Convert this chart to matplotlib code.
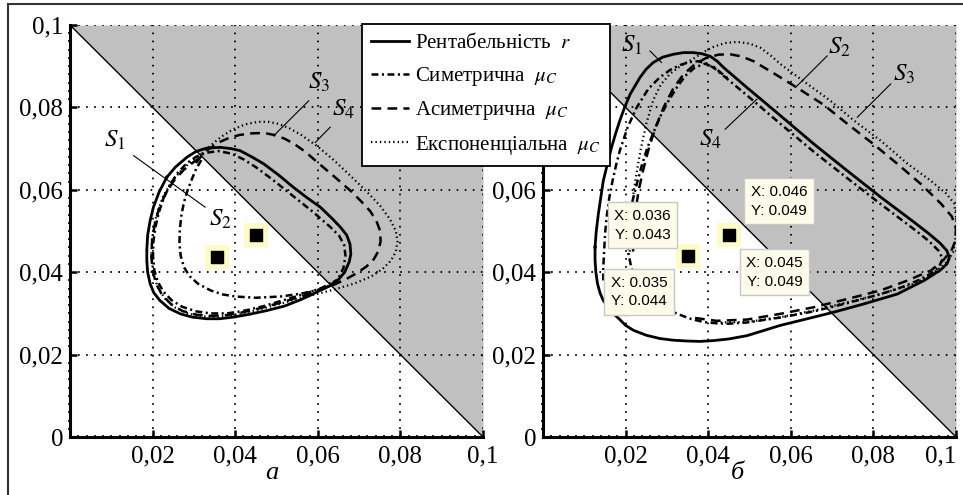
import numpy as np
import matplotlib
matplotlib.use("Agg")
import matplotlib.pyplot as plt
from matplotlib.lines import Line2D
from matplotlib.patches import Rectangle

# --- Data ---
ticks = [0, 0.02, 0.04, 0.06, 0.08, 0.1]
tick_labels = ["0", "0,02", "0,04", "0,06", "0,08", "0,1"]
legend_labels = ["Рентабельність  $r$", "Симетрична  $\\mu_C$",
                 "Асиметрична  $\\mu_C$", "Експоненціальна  $\\mu_C$"]
panel_names = ["а", "б"]

# boundary of the shaded region: x + y = 0.1
border_x = [0.0, 0.1]
border_y = [0.1, 0.0]

# panel a
a_s1 = np.array([
    [0.0234, 0.0630], [0.0255, 0.0655], [0.0283, 0.0679], [0.0305, 0.0693],
    [0.0330, 0.0701], [0.0364, 0.0703], [0.0390, 0.0700], [0.0412, 0.0695],
    [0.0440, 0.0680], [0.0469, 0.0663], [0.0505, 0.0636], [0.0541, 0.0606],
    [0.0575, 0.0580], [0.0606, 0.0558], [0.0635, 0.0530], [0.0655, 0.0509],
    [0.0670, 0.0490], [0.0678, 0.0468], [0.0680, 0.0444], [0.0676, 0.0425],
    [0.0665, 0.0400], [0.0650, 0.0382], [0.0630, 0.0367], [0.0606, 0.0356],
    [0.0580, 0.0343], [0.0558, 0.0333], [0.0520, 0.0318], [0.0477, 0.0307],
    [0.0435, 0.0298], [0.0396, 0.0291], [0.0362, 0.0287], [0.0331, 0.0287],
    [0.0296, 0.0291], [0.0267, 0.0299], [0.0240, 0.0312], [0.0218, 0.0331],
    [0.0203, 0.0350], [0.0194, 0.0372], [0.0188, 0.0400], [0.0186, 0.0428],
    [0.0186, 0.0455], [0.0188, 0.0490], [0.0194, 0.0525], [0.0202, 0.0558],
    [0.0216, 0.0595], [0.0234, 0.0630]])
a_s2 = np.array([
    [0.0318, 0.0672], [0.0306, 0.0652], [0.0296, 0.0628], [0.0285, 0.0600],
    [0.0276, 0.0570], [0.0270, 0.0540], [0.0266, 0.0505], [0.0265, 0.0470],
    [0.0268, 0.0440], [0.0276, 0.0412], [0.0290, 0.0390], [0.0310, 0.0372],
    [0.0340, 0.0356], [0.0370, 0.0346], [0.0400, 0.0341], [0.0450, 0.0338],
    [0.0510, 0.0341], [0.0560, 0.0348], [0.0600, 0.0357], [0.0630, 0.0368],
    [0.0650, 0.0385], [0.0662, 0.0410], [0.0667, 0.0440], [0.0664, 0.0465],
    [0.0652, 0.0488], [0.0630, 0.0510], [0.0590, 0.0545], [0.0540, 0.0585],
    [0.0490, 0.0625], [0.0450, 0.0655], [0.0420, 0.0674], [0.0390, 0.0688],
    [0.0360, 0.0694], [0.0330, 0.0690], [0.0305, 0.0680], [0.0282, 0.0664],
    [0.0260, 0.0640], [0.0242, 0.0612], [0.0227, 0.0580], [0.0215, 0.0545],
    [0.0207, 0.0510], [0.0202, 0.0475], [0.0201, 0.0440], [0.0204, 0.0405],
    [0.0212, 0.0378], [0.0226, 0.0353], [0.0246, 0.0332], [0.0272, 0.0316],
    [0.0305, 0.0305], [0.0340, 0.0300], [0.0380, 0.0300], [0.0420, 0.0306],
    [0.0470, 0.0318], [0.0520, 0.0333], [0.0570, 0.0348], [0.0610, 0.0362],
    [0.0640, 0.0378]])
a_s3 = np.array([
    [0.0305, 0.0665], [0.0318, 0.0682], [0.0335, 0.0698], [0.0360, 0.0715],
    [0.0385, 0.0726], [0.0410, 0.0733], [0.0440, 0.0737], [0.0470, 0.0738],
    [0.0495, 0.0733], [0.0520, 0.0724], [0.0545, 0.0710], [0.0570, 0.0692],
    [0.0600, 0.0666], [0.0640, 0.0632], [0.0680, 0.0597], [0.0705, 0.0572],
    [0.0727, 0.0548], [0.0742, 0.0524], [0.0751, 0.0500], [0.0752, 0.0475],
    [0.0747, 0.0452], [0.0736, 0.0432], [0.0718, 0.0414], [0.0695, 0.0398],
    [0.0670, 0.0384], [0.0640, 0.0370], [0.0600, 0.0355], [0.0560, 0.0341],
    [0.0520, 0.0329], [0.0470, 0.0315], [0.0420, 0.0303], [0.0380, 0.0296],
    [0.0340, 0.0294], [0.0305, 0.0297], [0.0272, 0.0306], [0.0245, 0.0322],
    [0.0223, 0.0345], [0.0208, 0.0373], [0.0200, 0.0405], [0.0197, 0.0440],
    [0.0199, 0.0478], [0.0205, 0.0515], [0.0215, 0.0552], [0.0230, 0.0588],
    [0.0250, 0.0620], [0.0275, 0.0648], [0.0300, 0.0668], [0.0318, 0.0680]])
a_s4 = np.array([
    [0.0320, 0.0688], [0.0340, 0.0707], [0.0365, 0.0728], [0.0395, 0.0747],
    [0.0425, 0.0759], [0.0455, 0.0765], [0.0480, 0.0765], [0.0505, 0.0760],
    [0.0530, 0.0750], [0.0560, 0.0733], [0.0600, 0.0705], [0.0640, 0.0671],
    [0.0680, 0.0633], [0.0720, 0.0594], [0.0752, 0.0560], [0.0775, 0.0528],
    [0.0789, 0.0500], [0.0793, 0.0475], [0.0789, 0.0450], [0.0777, 0.0428],
    [0.0757, 0.0408], [0.0730, 0.0390], [0.0690, 0.0373], [0.0640, 0.0358],
    [0.0590, 0.0345], [0.0540, 0.0332], [0.0490, 0.0318], [0.0440, 0.0305],
    [0.0400, 0.0297], [0.0360, 0.0292], [0.0320, 0.0293], [0.0285, 0.0300],
    [0.0255, 0.0314], [0.0230, 0.0336], [0.0212, 0.0364], [0.0202, 0.0398],
    [0.0197, 0.0435], [0.0198, 0.0475], [0.0203, 0.0512], [0.0212, 0.0548],
    [0.0226, 0.0585], [0.0245, 0.0618], [0.0270, 0.0648], [0.0298, 0.0672],
    [0.0320, 0.0688]])

# panel б
b_s1 = np.array([
    [0.0126, 0.0461], [0.0129, 0.0500], [0.0134, 0.0541], [0.0140, 0.0582],
    [0.0146, 0.0622], [0.0156, 0.0663], [0.0166, 0.0703], [0.0176, 0.0737],
    [0.0186, 0.0768], [0.0198, 0.0801], [0.0211, 0.0832], [0.0235, 0.0873],
    [0.0250, 0.0893], [0.0267, 0.0909], [0.0290, 0.0922], [0.0316, 0.0929],
    [0.0340, 0.0933], [0.0364, 0.0933], [0.0386, 0.0930], [0.0405, 0.0924],
    [0.0422, 0.0912], [0.0437, 0.0897], [0.0494, 0.0848], [0.0575, 0.0780],
    [0.0656, 0.0711], [0.0737, 0.0646], [0.0818, 0.0582], [0.0899, 0.0521],
    [0.0935, 0.0493], [0.0962, 0.0470], [0.0978, 0.0452], [0.0984, 0.0435],
    [0.0978, 0.0420], [0.0962, 0.0405], [0.0923, 0.0380], [0.0858, 0.0347],
    [0.0777, 0.0323], [0.0704, 0.0303], [0.0656, 0.0291], [0.0575, 0.0271],
    [0.0494, 0.0246], [0.0450, 0.0238], [0.0413, 0.0234], [0.0380, 0.0232],
    [0.0348, 0.0233], [0.0315, 0.0235], [0.0283, 0.0239], [0.0250, 0.0247],
    [0.0219, 0.0259], [0.0200, 0.0271], [0.0186, 0.0285], [0.0170, 0.0300],
    [0.0158, 0.0315], [0.0146, 0.0331], [0.0138, 0.0350], [0.0132, 0.0372],
    [0.0128, 0.0400], [0.0126, 0.0430], [0.0126, 0.0461]])
b_s2 = np.array([
    [0.0146, 0.0380], [0.0146, 0.0412], [0.0148, 0.0450], [0.0150, 0.0490],
    [0.0154, 0.0533], [0.0160, 0.0578], [0.0168, 0.0620], [0.0177, 0.0660],
    [0.0186, 0.0695], [0.0205, 0.0752], [0.0227, 0.0800], [0.0255, 0.0845],
    [0.0283, 0.0873], [0.0308, 0.0891], [0.0332, 0.0903], [0.0355, 0.0910],
    [0.0375, 0.0912], [0.0395, 0.0907], [0.0415, 0.0895], [0.0450, 0.0866],
    [0.0500, 0.0824], [0.0575, 0.0760], [0.0656, 0.0692], [0.0737, 0.0628],
    [0.0818, 0.0565], [0.0900, 0.0503], [0.0935, 0.0475], [0.0958, 0.0452],
    [0.0968, 0.0432], [0.0958, 0.0412], [0.0940, 0.0397], [0.0910, 0.0381],
    [0.0870, 0.0364], [0.0818, 0.0347], [0.0737, 0.0325], [0.0656, 0.0305],
    [0.0575, 0.0290], [0.0494, 0.0278], [0.0450, 0.0275], [0.0420, 0.0276],
    [0.0390, 0.0279], [0.0360, 0.0286], [0.0330, 0.0297], [0.0300, 0.0310],
    [0.0270, 0.0328], [0.0245, 0.0352], [0.0226, 0.0380], [0.0214, 0.0410],
    [0.0207, 0.0445], [0.0206, 0.0493], [0.0210, 0.0530], [0.0216, 0.0570],
    [0.0227, 0.0614], [0.0238, 0.0655], [0.0252, 0.0700], [0.0267, 0.0738],
    [0.0285, 0.0780], [0.0305, 0.0818], [0.0325, 0.0850], [0.0345, 0.0877],
    [0.0368, 0.0897], [0.0392, 0.0906], [0.0415, 0.0897], [0.0450, 0.0868]])
b_s3 = np.array([
    [0.0218, 0.0450], [0.0220, 0.0500], [0.0224, 0.0550], [0.0232, 0.0600],
    [0.0243, 0.0650], [0.0256, 0.0700], [0.0272, 0.0750], [0.0292, 0.0800],
    [0.0315, 0.0845], [0.0340, 0.0880], [0.0368, 0.0905], [0.0395, 0.0920],
    [0.0425, 0.0928], [0.0453, 0.0929], [0.0480, 0.0924], [0.0510, 0.0912],
    [0.0560, 0.0882], [0.0615, 0.0848], [0.0680, 0.0806], [0.0737, 0.0760],
    [0.0800, 0.0711], [0.0858, 0.0663], [0.0915, 0.0614], [0.0964, 0.0566],
    [0.0990, 0.0535], [0.1000, 0.0505], [0.0998, 0.0475], [0.0990, 0.0455],
    [0.0970, 0.0430], [0.0939, 0.0404], [0.0883, 0.0380], [0.0818, 0.0356],
    [0.0737, 0.0335], [0.0656, 0.0315], [0.0575, 0.0299], [0.0494, 0.0285],
    [0.0420, 0.0282], [0.0360, 0.0290]])
b_s4 = np.array([
    [0.0210, 0.0450], [0.0212, 0.0500], [0.0215, 0.0550], [0.0220, 0.0600],
    [0.0228, 0.0650], [0.0237, 0.0700], [0.0250, 0.0760], [0.0267, 0.0818],
    [0.0285, 0.0855], [0.0308, 0.0882], [0.0335, 0.0902], [0.0364, 0.0918],
    [0.0390, 0.0935], [0.0413, 0.0947], [0.0440, 0.0956], [0.0470, 0.0959],
    [0.0500, 0.0955], [0.0526, 0.0945], [0.0550, 0.0927], [0.0575, 0.0905],
    [0.0640, 0.0857], [0.0696, 0.0816], [0.0753, 0.0768], [0.0818, 0.0719],
    [0.0883, 0.0663], [0.0939, 0.0622], [0.0975, 0.0592], [0.0995, 0.0568],
    [0.1000, 0.0540], [0.1000, 0.0490], [0.0993, 0.0448], [0.0978, 0.0425],
    [0.0964, 0.0412], [0.0935, 0.0392], [0.0899, 0.0372], [0.0818, 0.0347],
    [0.0737, 0.0327], [0.0656, 0.0307], [0.0575, 0.0291], [0.0494, 0.0279],
    [0.0420, 0.0278]])

# equilibrium points (black squares)
a_points_x = [0.0357, 0.0450]
a_points_y = [0.0437, 0.0490]
b_points_x = [0.0350, 0.0450]
b_points_y = [0.0440, 0.0490]

# S labels: text position and pointer line (x0, y0, x1, y1)
a_labels = [("$S_1$", 0.0109, 0.0719), ("$S_2$", 0.0364, 0.0529),
            ("$S_3$", 0.0602, 0.0861), ("$S_4$", 0.0663, 0.0796)]
a_pointers = [(0.0154, 0.0683, 0.0327, 0.0558), (0.0578, 0.0816, 0.0493, 0.0731),
              (0.0630, 0.0752, 0.0594, 0.0715)]
b_labels = [("$S_1$", 0.0215, 0.0950), ("$S_2$", 0.0717, 0.0945),
            ("$S_3$", 0.0874, 0.0881), ("$S_4$", 0.0405, 0.0723)]
b_pointers = [(0.0259, 0.0937, 0.0287, 0.0909), (0.0688, 0.0925, 0.0611, 0.0848),
              (0.0842, 0.0857, 0.0761, 0.0776), (0.0441, 0.0747, 0.0518, 0.0820)]

# data tips on panel б: text and centre
tip_texts = ["X: 0.046\nY: 0.049", "X: 0.036\nY: 0.043",
             "X: 0.035\nY: 0.044", "X: 0.045\nY: 0.049"]
tip_x = [0.0571, 0.0241, 0.0232, 0.0561]
tip_y = [0.0572, 0.0514, 0.0352, 0.0400]

# --- Styles ---
STYLES = [
    dict(linestyle="-", lw=2.0),
    dict(linestyle=(0, (5, 2.5, 1.5, 2.5)), lw=1.8),
    dict(linestyle=(0, (7, 4.5)), lw=1.8),
    dict(linestyle=(0, (1.0, 2.2)), lw=1.6),
]
GRAY = "#c0c0c0"
W, H = 963, 495


def setup_axes(ax, hide_top_ylabels=False):
    ax.set_xlim(0, 0.1)
    ax.set_ylim(0, 0.1)
    ax.fill_between(border_x, border_y, [0.1, 0.1], color=GRAY, lw=0, zorder=0.5)
    ax.plot(border_x, border_y, color="black", lw=1.0, zorder=1.8)
    ax.set_xticks(ticks[1:])
    ax.set_xticklabels(tick_labels[1:])
    ax.set_yticks(ticks)
    ylabels = list(tick_labels)
    if hide_top_ylabels:
        # these two sit behind the legend in the reference
        ylabels[-2:] = ["", ""]
    ax.set_yticklabels(ylabels)
    ax.set_xticks(np.arange(0, 0.1001, 0.002), minor=True)
    ax.set_yticks(np.arange(0, 0.1001, 0.002), minor=True)
    ax.grid(True, which="major", color="black", linestyle=(0, (1.2, 4.6)), lw=1.3)
    for side in ("top", "right"):
        ax.spines[side].set_visible(False)
    for side in ("left", "bottom"):
        ax.spines[side].set_linewidth(2.2)
    ax.tick_params(which="major", direction="in", length=5, width=1.8,
                   labelsize=18)
    ax.tick_params(axis="x", which="major", pad=6)
    ax.tick_params(axis="y", which="major", pad=5)
    ax.tick_params(which="minor", direction="inout", length=3.5, width=1.2)


def draw_panel(ax, curves, points_x, points_y, labels, pointers, hide=False):
    setup_axes(ax, hide)
    for c, st in zip(curves, STYLES):
        ax.plot(c[:, 0], c[:, 1], color="black", zorder=3, **st)
    ax.scatter(points_x, points_y, s=300, marker="s", color="#fffbc8",
               edgecolors="none", zorder=4)
    ax.scatter(points_x, points_y, s=75, marker="s", color="black", zorder=5)
    for txt, x, y in labels:
        ax.text(x, y, txt, fontsize=18, ha="center", va="center", zorder=6)
    for x0, y0, x1, y1 in pointers:
        ax.plot([x0, x1], [y0, y1], color="black", lw=0.8, zorder=6)


def main():
    plt.rcParams["font.family"] = ["Liberation Serif", "DejaVu Serif"]
    plt.rcParams["mathtext.fontset"] = "stix"
    plt.rcParams["lines.scale_dashes"] = False

    fig = plt.figure(figsize=(W / 100, H / 100), dpi=100)
    ax_a = fig.add_axes([70 / W, 1 - 437 / H, 413 / W, 412 / H])
    ax_b = fig.add_axes([543 / W, 1 - 437 / H, 413 / W, 412 / H])

    draw_panel(ax_a, [a_s1, a_s2, a_s3, a_s4], a_points_x, a_points_y,
               a_labels, a_pointers)
    draw_panel(ax_b, [b_s1, b_s2, b_s3, b_s4], b_points_x, b_points_y,
               b_labels, b_pointers, hide=True)
    ax_b.get_xticklabels()[-1].set_horizontalalignment("right")

    for txt, x, y in zip(tip_texts, tip_x, tip_y):
        ax_b.text(x, y, txt, family="Liberation Sans", fontsize=11,
                  linespacing=1.45, ha="center", va="center", zorder=7,
                  bbox=dict(boxstyle="square,pad=0.42", fc="#fdfbea",
                            ec="#c8c8c8", lw=1.0))

    # panel letters under the x axes
    fig.text(272 / W, 1 - 473 / H, panel_names[0], fontsize=19,
             style="italic", ha="center", va="center")
    fig.text(737 / W, 1 - 473 / H, panel_names[1], fontsize=19,
             style="italic", ha="center", va="center")

    # legend shared by both panels
    handles = [Line2D([], [], color="black", **st) for st in STYLES]
    leg = fig.legend(handles, legend_labels, loc="upper left",
                     bbox_to_anchor=(362 / W, 1 - 24 / H), borderaxespad=0,
                     fontsize=15, handlelength=1.8, handletextpad=0.3,
                     labelspacing=0.55, borderpad=0.45, fancybox=False,
                     framealpha=1, edgecolor="black")
    leg.get_frame().set_linewidth(1.3)
    leg.set_zorder(10)

    # outer frame (only left and top edges fall inside the picture)
    fig.add_artist(Rectangle((8 / W, -0.1), 1.2, 1.1 - 4 / H,
                             transform=fig.transFigure, fill=False,
                             ec="#333333", lw=1.5))

    fig.savefig("out.png", dpi=100)
    plt.close(fig)


if __name__ == "__main__":
    main()
